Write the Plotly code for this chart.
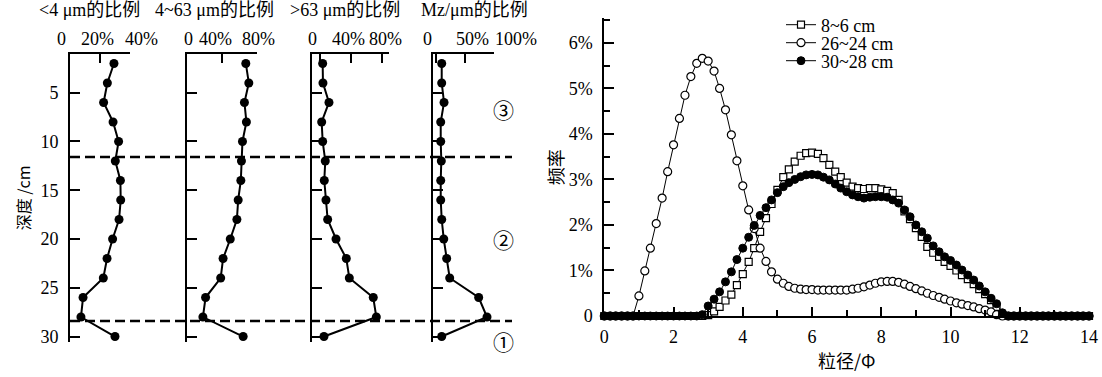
import plotly.graph_objects as go

# ---------------- data: left panels (depth profiles) ----------------
depth = [2, 4, 6, 8, 10, 12, 14, 16, 18, 20, 22, 24, 26, 28, 30]
clay_pct = [29.3, 24.9, 22.4, 28.7, 32.4, 30.2, 33.6, 33.8, 32.7, 28.4, 24.7, 22.2, 8.7, 7.3, 30.0]
silt_pct = [67.3, 70.8, 65.7, 68.0, 63.4, 62.2, 61.5, 58.4, 56.9, 49.2, 40.8, 38.0, 20.4, 17.3, 64.2]
sand_pct = [3.1, 3.5, 11.3, 1.8, 3.1, 6.5, 5.2, 7.4, 9.6, 20.5, 33.9, 37.8, 69.0, 73.0, 4.8]
mz_pct = [9.8, 9.8, 13.8, 8.1, 8.1, 9.1, 8.1, 8.1, 9.8, 13.3, 18.4, 23.6, 73.6, 87.9, 9.8]
panel_titles = ["<4 μm的比例", "4~63 μm的比例", ">63 μm的比例", "Mz/μm的比例"]
panel_tickvals = [[0, 20, 40], [0, 40, 80], [0, 40, 80], [0, 50, 100]]
panel_ticktext = [["0", "20%", "40%"], ["0", "40%", "80%"], ["0", "40%", "80%"], ["0", "50%", "100%"]]
depth_ticks = [5, 10, 15, 20, 25, 30]
boundaries = [11.6, 28.4]
zone_labels = ["③", "②", "①"]
zone_depths = [6.7, 20.0, 30.5]

# ---------------- data: right panel (grain size frequency) ----------------
phi = [0.00, 0.17, 0.33, 0.50, 0.67, 0.83,
       1.00, 1.17, 1.33, 1.50, 1.67, 1.83,
       2.00, 2.17, 2.33, 2.50, 2.67, 2.83,
       3.00, 3.17, 3.33, 3.50, 3.67, 3.83,
       4.00, 4.17, 4.33, 4.50, 4.67, 4.83,
       5.00, 5.17, 5.33, 5.50, 5.67, 5.83,
       6.00, 6.17, 6.33, 6.50, 6.67, 6.83,
       7.00, 7.17, 7.33, 7.50, 7.67, 7.83,
       8.00, 8.17, 8.33, 8.50, 8.67, 8.83,
       9.00, 9.17, 9.33, 9.50, 9.67, 9.83,
       10.00, 10.17, 10.33, 10.50, 10.67, 10.83,
       11.00, 11.17, 11.33, 11.50, 11.67, 11.83,
       12.00, 12.17, 12.33, 12.50, 12.67, 12.83,
       13.00, 13.17, 13.33, 13.50, 13.67, 13.83,
       14.00]
freq_8_6 = [0, 0, 0, 0, 0, 0,
            0, 0, 0, 0, 0, 0,
            0, 0, 0, 0, 0, 0,
            0.02, 0.10, 0.20, 0.34, 0.47, 0.68,
            0.92, 1.19, 1.49, 1.85, 2.15, 2.46,
            2.77, 3.05, 3.22, 3.39, 3.52, 3.58,
            3.59, 3.56, 3.47, 3.32, 3.17, 3.05,
            2.93, 2.84, 2.81, 2.79, 2.81, 2.81,
            2.78, 2.75, 2.70, 2.55, 2.30, 2.13,
            1.93, 1.74, 1.52, 1.39, 1.30, 1.19,
            1.10, 1.00, 0.90, 0.81, 0.70, 0.59,
            0.48, 0.35, 0.20, 0.02, 0, 0,
            0, 0, 0, 0, 0, 0,
            0, 0, 0, 0, 0, 0,
            0]
freq_26_24 = [0, 0, 0, 0, 0, 0,
              0.44, 0.99, 1.49, 2.03, 2.59, 3.17,
              3.76, 4.34, 4.85, 5.26, 5.55, 5.66,
              5.60, 5.38, 5.00, 4.53, 3.98, 3.41,
              2.86, 2.33, 1.92, 1.49, 1.20, 0.97,
              0.81, 0.72, 0.65, 0.61, 0.59, 0.58,
              0.58, 0.57, 0.57, 0.57, 0.57, 0.57,
              0.57, 0.59, 0.61, 0.64, 0.68, 0.72,
              0.75, 0.76, 0.76, 0.74, 0.70, 0.65,
              0.60, 0.55, 0.50, 0.45, 0.41, 0.37,
              0.33, 0.29, 0.26, 0.23, 0.20, 0.16,
              0.13, 0.09, 0.03, 0, 0, 0,
              0, 0, 0, 0, 0, 0,
              0, 0, 0, 0, 0, 0,
              0]
freq_30_28 = [0, 0, 0, 0, 0, 0,
              0, 0, 0, 0, 0, 0,
              0, 0, 0, 0, 0, 0.03,
              0.22, 0.37, 0.53, 0.75, 0.97, 1.24,
              1.49, 1.73, 1.99, 2.21, 2.38, 2.55,
              2.71, 2.84, 2.93, 3.00, 3.06, 3.10,
              3.11, 3.10, 3.05, 2.99, 2.90, 2.81,
              2.73, 2.66, 2.62, 2.59, 2.61, 2.62,
              2.62, 2.61, 2.55, 2.48, 2.33, 2.18,
              2.00, 1.85, 1.71, 1.54, 1.41, 1.30,
              1.22, 1.12, 1.01, 0.90, 0.79, 0.66,
              0.53, 0.39, 0.27, 0.07, 0, 0,
              0, 0, 0, 0, 0, 0,
              0, 0, 0, 0, 0, 0,
              0]
series_names = ["8~6 cm", "26~24 cm", "30~28 cm"]
freq_ticks = [0, 1, 2, 3, 4, 5, 6]
freq_ticktext = ["0", "1%", "2%", "3%", "4%", "5%", "6%"]

# ---------------- layout geometry ----------------
W, H = 1102, 377
SERIF = "Liberation Serif, Noto Sans CJK SC, serif"
CJK = "Noto Sans CJK SC, Liberation Serif, sans-serif"


def px(x):
    return x / W


def py(y):
    return 1 - y / H


panel_px = [(70, 130), (187.3, 256.7), (312.3, 389), (433.3, 494)]
panel_ranges = [[0, 40], [-0.9, 80], [-10.4, 89.5], [-4.7, 100]]
# horizontal positions of the top tick labels as typeset in the original figure
top_label_px = [[61, 97, 141], [188, 215, 258], [312, 348.5, 385], [428, 472, 516]]
title_centers = [89, 214.5, 345, 475]
ydom_left = [py(341.7), py(54)]
depth_range = [30.53, 1.03]

fig = go.Figure()
values = [clay_pct, silt_pct, sand_pct, mz_pct]
for i, vals in enumerate(values):
    n = "" if i == 0 else str(i + 1)
    fig.add_trace(go.Scatter(
        x=vals, y=depth, mode="lines+markers", xaxis="x" + n, yaxis="y" + n,
        line=dict(color="black", width=2),
        marker=dict(color="black", size=9, symbol="circle"),
        showlegend=False, cliponaxis=False))

# right chart traces (each with its own legend box for exact row placement)
fig.add_trace(go.Scatter(
    x=phi, y=freq_8_6, mode="lines+markers", xaxis="x5", yaxis="y5", name=series_names[0],
    legend="legend",
    line=dict(color="black", width=1),
    marker=dict(symbol="square", size=7, color="white", line=dict(color="black", width=1.2)),
    cliponaxis=False))
fig.add_trace(go.Scatter(
    x=phi, y=freq_26_24, mode="lines+markers", xaxis="x5", yaxis="y5", name=series_names[1],
    legend="legend2",
    line=dict(color="black", width=1),
    marker=dict(symbol="circle", size=8, color="white", line=dict(color="black", width=1.2)),
    cliponaxis=False))
fig.add_trace(go.Scatter(
    x=phi, y=freq_30_28, mode="lines+markers", xaxis="x5", yaxis="y5", name=series_names[2],
    legend="legend3",
    line=dict(color="black", width=1),
    marker=dict(symbol="circle", size=8, color="black", line=dict(color="black", width=1)),
    cliponaxis=False))


def legend_box(y_center):
    return dict(x=px(781), y=py(y_center), xanchor="left", yanchor="middle",
                bgcolor="rgba(0,0,0,0)", font=dict(family=SERIF, size=18),
                itemwidth=30, borderwidth=0)


layout = dict(
    width=W, height=H, margin=dict(l=0, r=0, t=0, b=0, autoexpand=False),
    paper_bgcolor="white", plot_bgcolor="white",
    font=dict(family=SERIF, size=17, color="black"),
    showlegend=True,
    legend=legend_box(25),
    legend2=legend_box(43),
    legend3=legend_box(61),
)

for i in range(4):
    n = "" if i == 0 else str(i + 1)
    layout["xaxis" + n] = dict(
        domain=[px(panel_px[i][0]), px(panel_px[i][1])], range=panel_ranges[i],
        anchor="y" + n, side="top", showline=True, linecolor="black", linewidth=2,
        ticks="inside", ticklen=9, tickwidth=1.5, tickcolor="black",
        tickvals=panel_tickvals[i], showticklabels=False,
        showgrid=False, zeroline=False, automargin=False)
    layout["yaxis" + n] = dict(
        domain=ydom_left, range=depth_range, anchor="x" + n,
        showline=True, linecolor="black", linewidth=2,
        ticks="inside", ticklen=10, tickwidth=1.5, tickcolor="black",
        tickvals=depth_ticks, showticklabels=(i == 0), tickangle=0,
        showgrid=False, zeroline=False, ticklabelstandoff=6, automargin=False,
        tickfont=dict(family=SERIF, size=18))
layout["yaxis"]["title"] = dict(text="深度 /cm", font=dict(family=CJK, size=16), standoff=6)

layout["xaxis5"] = dict(
    domain=[px(604.3), px(1089)], range=[0, 14], anchor="y5",
    showline=True, linecolor="black", linewidth=2,
    ticks="inside", ticklen=9, tickwidth=1.5, tickcolor="black",
    tickvals=[0, 2, 4, 6, 8, 10, 12, 14], tickangle=0,
    minor=dict(ticks="inside", ticklen=6, tickwidth=1.5, tickcolor="black", dtick=1, showgrid=False),
    showgrid=False, zeroline=False, ticklabelstandoff=3, automargin=False,
    tickfont=dict(family=SERIF, size=18),
    title=dict(text="粒径/Φ", font=dict(family=CJK, size=18), standoff=10))
layout["yaxis5"] = dict(
    domain=[py(316), py(18.3)], range=[0, 6.54], anchor="x5",
    showline=True, linecolor="black", linewidth=2,
    ticks="inside", ticklen=10, tickwidth=1.5, tickcolor="black",
    tickvals=freq_ticks, ticktext=freq_ticktext, tickangle=0,
    minor=dict(ticks="inside", ticklen=6, tickwidth=1.5, tickcolor="black", dtick=0.5, showgrid=False),
    showgrid=False, zeroline=False, ticklabelstandoff=6, automargin=False,
    tickfont=dict(family=SERIF, size=18),
    title=dict(text="频率", font=dict(family=CJK, size=18), standoff=0))

fig.update_layout(**layout)

# boundary dashed lines
for b in boundaries:
    fig.add_shape(type="line", xref="paper", yref="y", x0=px(70), x1=px(512), y0=b, y1=b,
                  line=dict(color="black", width=2.5, dash="10px,5px"))

# top-axis tick labels of the depth panels
for labels, xs in zip(panel_ticktext, top_label_px):
    for lab, xx in zip(labels, xs):
        fig.add_annotation(text=lab, xref="paper", yref="paper", x=px(xx), y=py(39),
                           xanchor="center", yanchor="middle", showarrow=False,
                           font=dict(family=SERIF, size=18))

# panel titles
for t, cx in zip(panel_titles, title_centers):
    fig.add_annotation(text=t, xref="paper", yref="paper", x=px(cx), y=py(10),
                       xanchor="center", yanchor="middle", showarrow=False,
                       font=dict(family=SERIF, size=18))

# zone labels
for lab, d in zip(zone_labels, zone_depths):
    fig.add_annotation(text=lab, xref="paper", yref="y", x=px(503), y=d,
                       xanchor="center", yanchor="middle", showarrow=False,
                       font=dict(family=CJK, size=21))

fig.write_html("out.html", config={"displayModeBar": False},
               post_script="document.body.style.margin='0px';")
